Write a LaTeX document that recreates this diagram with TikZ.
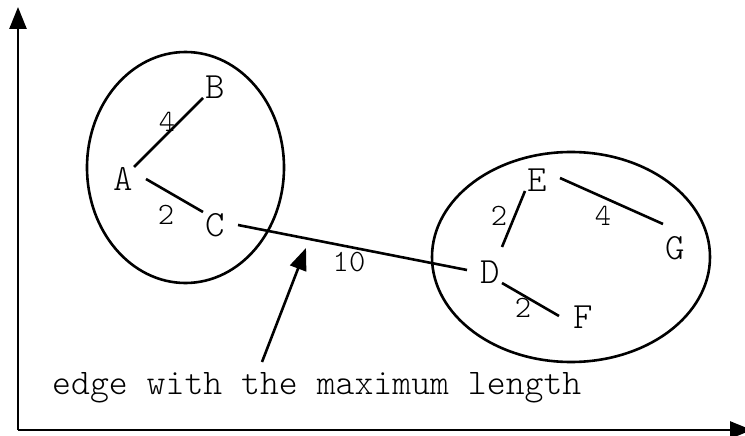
\documentclass[tikz,border=0pt]{standalone}
\usepackage{fontspec}
\setmonofont{Latin Modern Mono Light}
\usetikzlibrary{arrows.meta,calc}
\tikzset{
  vtx/.style={inner sep=0pt,font=\ttfamily\fontsize{37}{37}\selectfont},
  wlabel/.style={inner sep=0pt,font=\ttfamily\fontsize{31}{31}\selectfont},
  edg/.style={line width=2.6pt},
  axis/.style={line width=2.6pt,-{Triangle[length=22pt,width=17pt]}},
  cluster/.style={line width=2.6pt},
}
\begin{document}
\begin{tikzpicture}[x=1pt,y=-1pt]
\useasboundingbox (0,0) rectangle (745,436);
% axes
\coordinate (O) at (18,430);
\coordinate (Ytip) at (18,7);
\coordinate (Xtip) at (752,430);
\draw[axis] (O) -- (Ytip);
\draw[axis] (O) -- (Xtip);
% clusters
\draw[cluster] (185.5,167.5) ellipse [x radius=98.5, y radius=115.5];
\draw[cluster] (571,257) ellipse [x radius=139, y radius=105];
% vertices
\node[vtx] (A) at (123,179) {A};
\node[vtx] (B) at (215,87) {B};
\node[vtx] (C) at (215,225) {C};
\node[vtx] (D) at (490,272) {D};
\node[vtx] (E) at (537,180) {E};
\node[vtx] (F) at (583,317) {F};
\node[vtx] (G) at (675,248) {G};
% edges
\draw[edg] ($(A)+(11,-12)$) -- ($(B)+(-12,11)$);
\draw[edg] ($(A)+(23,0)$) -- ($(C)+(-12,-13)$);
\draw[edg] ($(C)+(23,0)$) -- ($(D)+(-23,-2)$);
\draw[edg] ($(D)+(12,-25)$) -- ($(E)+(-12,11)$);
\draw[edg] ($(E)+(23,-2)$) -- ($(G)+(-12,-24)$);
\draw[edg] ($(D)+(12,11)$) -- ($(F)+(-24,-1)$);
% weights
\node[wlabel] (wab) at (167,122) {4};
\node[wlabel] (wac) at (166,215) {2};
\node[wlabel] (wcd) at (349,262) {10};
\node[wlabel] (wde) at (499,216) {2};
\node[wlabel] (weg) at (603,216) {4};
\node[wlabel] (wdf) at (523,308) {2};
% annotation
\node[inner sep=0pt,anchor=west,font=\ttfamily\fontsize{36}{36}\selectfont] (note) at (52,388) {edge with the maximum length};
\coordinate (ptail) at (262,362);
\coordinate (ptip) at (306,248);
\draw[edg,-{Triangle[length=22pt,width=17pt]}] (ptail) -- (ptip);
\end{tikzpicture}
\end{document}
